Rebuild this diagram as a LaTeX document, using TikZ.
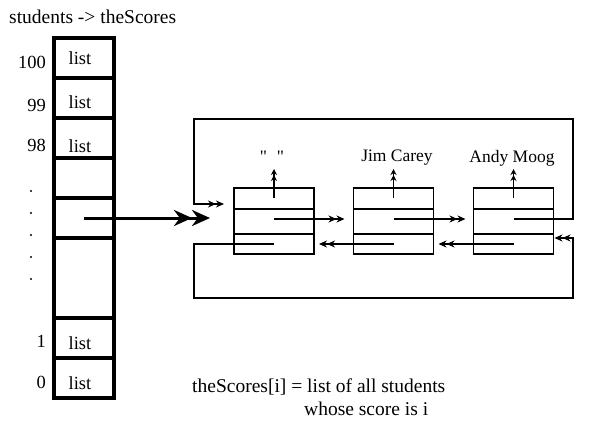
\documentclass[tikz,border=0pt]{standalone}
\usepackage{fontspec}
\setmainfont{Liberation Serif}
\newfontfamily\plainquote{Liberation Serif}[Ligatures=TeXOff]
\usetikzlibrary{arrows.meta}
\begin{document}
\begin{tikzpicture}[x=1pt,y=-1pt,
  cell/.style={draw,line width=3.5pt,minimum width=60pt,minimum height=40pt,inner sep=0pt,outer sep=0pt,anchor=north west},
  rec/.style={draw,line width=1.5pt,minimum width=80pt,minimum height=66pt,inner sep=0pt,outer sep=0pt},
  lbl/.style={font=\fontsize{18.5}{20}\selectfont,inner sep=0pt},
  bigtxt/.style={font=\fontsize{19.5}{22}\selectfont,inner sep=0pt},
  nametxt/.style={font=\fontsize{17.5}{20}\selectfont,inner sep=0pt},
  dotn/.style={circle,fill,inner sep=0pt,minimum size=2.2pt},
  arr/.style={line width=1.5pt,-{Stealth[length=8pt,width=7pt]Stealth[length=8pt,width=7pt]}},
  uparr/.style={line width=1.5pt,-{Stealth[length=6pt,width=6pt]Stealth[length=6pt,width=6pt]}},
  bigarr/.style={line width=3pt,-{Stealth[length=18pt,width=16pt]Stealth[length=18pt,width=16pt]}},
  ln/.style={line width=1.5pt}
]
\useasboundingbox (0,0) rectangle (591,431);
% title
\node[bigtxt,anchor=west] (title) at (9,17) {students -{}> theScores};
% array
\node[cell] (c100) at (54,38) {};
\node[cell] (c99) at (54,78) {};
\node[cell] (c98) at (54,118) {};
\node[cell] (c4) at (54,158) {};
\node[cell] (c5) at (54,198) {};
\node[cell,minimum height=80pt] (c6) at (54,238) {};
\node[cell] (c1) at (54,318) {};
\node[cell] (c0) at (54,358) {};
% cell texts
\node[lbl] (l100) at (80,58) {list};
\node[lbl] (l99) at (80,102) {list};
\node[lbl] (l98) at (80,146) {list};
\node[lbl] (l1) at (80,343) {list};
\node[lbl] (l0) at (80,383) {list};
% index labels
\node[lbl,anchor=east] (i100) at (46,62) {100};
\node[lbl,anchor=east] (i99) at (46,105) {99};
\node[lbl,anchor=east] (i98) at (46,145) {98};
\node[lbl,anchor=east] (i1) at (46,341) {1};
\node[lbl,anchor=east] (i0) at (46,382) {0};
% dots
\node[dotn] (d1) at (31,191) {};
\node[dotn] (d2) at (31,213) {};
\node[dotn] (d3) at (31,235) {};
\node[dotn] (d4) at (31,257) {};
\node[dotn] (d5) at (31,279) {};
% list boxes
\node[rec] (b1) at (274,221) {};
\node[rec] (b2) at (393.5,221) {};
\node[rec] (b3) at (513.5,221) {};
\foreach \b in {b1,b2,b3}{
  \draw[ln] ([yshift=-21pt]\b.north west) -- ([yshift=-21pt]\b.north east);
  \draw[ln] ([yshift=-46pt]\b.north west) -- ([yshift=-46pt]\b.north east);
  \coordinate (\b u) at ([yshift=-10pt]\b.north);
  \coordinate (\b n) at ([yshift=-31pt]\b.north);
  \coordinate (\b p) at ([yshift=-56pt]\b.north);
}
% labels above
\node[nametxt] (t1) at (272,157) {\plainquote "\hspace{10pt}"};
\node[nametxt] (t2) at (397,158) {Jim Carey};
\node[nametxt] (t3) at (512,158) {Andy Moog};
\draw[uparr] (b1u) -- (b1u |- 0,169);
\draw[uparr] (b2u) -- (b2u |- 0,169);
\draw[uparr] (b3u) -- (b3u |- 0,169);
% next/prev
\draw[arr] (b1n) -- ([xshift=-9pt]b2.west |- b1n);
\draw[arr] (b2n) -- ([xshift=-8pt]b3.west |- b2n);
\draw[arr] (b2p) -- ([xshift=5pt]b1.east |- b2p);
\draw[arr] (b3p) -- ([xshift=5pt]b2.east |- b3p);
% outer loops
\coordinate (tr) at (573,119);
\coordinate (tl) at (194,119);
\coordinate (br) at (573,298);
\coordinate (bl) at (194,298);
\draw[arr] (b3n) -| (tr) -- (tl) -- (tl |- 0,204) -- ([xshift=-10pt]b1.west |- 0,204);
\draw[arr] (b1p) -| (bl) -- (br) -- (br |- 0,238) -- ([xshift=1pt]b3.east |- 0,238);
% big arrow
\draw[bigarr] (c5.center) -- ([xshift=-24pt]b1.west |- c5.center);
% caption
\node[bigtxt,anchor=west] (cap1) at (192,387) {theScores[i] = list of all students};
\node[bigtxt,anchor=west] (cap2) at (304,409) {whose score is i};
\end{tikzpicture}
\end{document}
